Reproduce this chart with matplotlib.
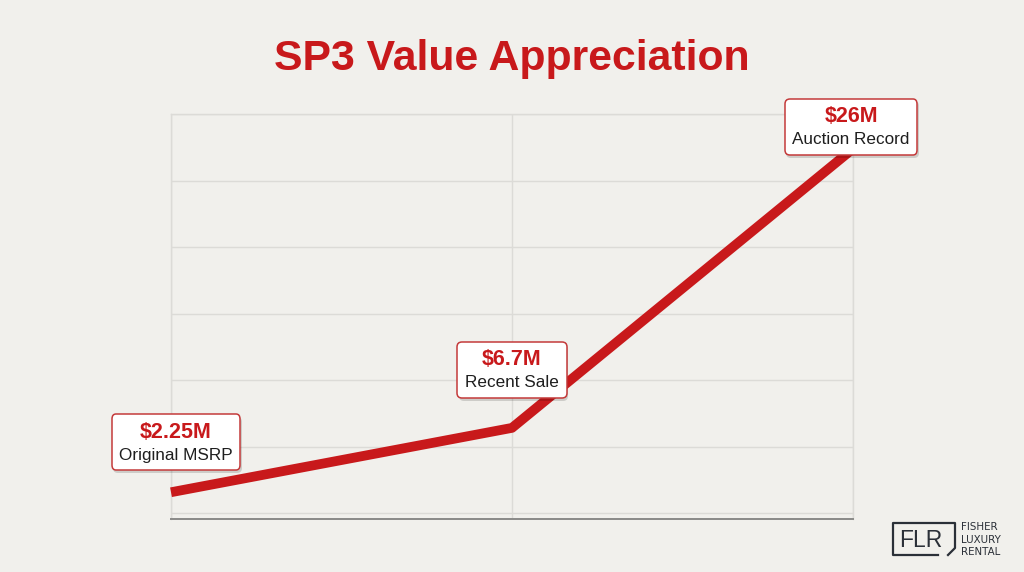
import matplotlib
matplotlib.use("Agg")
import matplotlib.pyplot as plt
import numpy as np
from matplotlib.offsetbox import AnnotationBbox, TextArea, VPacker
from matplotlib import patheffects
from matplotlib.lines import Line2D

# ---- data ----
x_pos = [0, 1, 2]
values = [2.25, 6.7, 26.0]
value_labels = ["$2.25M", "$6.7M", "$26M"]
event_labels = ["Original MSRP", "Recent Sale", "Auction Record"]
title = "SP3 Value Appreciation"

BG = "#F1F0EC"
RED = "#C8191B"
GRID = "#DCDBD7"
FONT = "Liberation Sans"

fig = plt.figure(figsize=(10.24, 5.72), dpi=100, facecolor=BG)
ax = fig.add_axes([171/1024, 1 - 519/572, (853-171)/1024, (519-114)/572])
ax.set_facecolor(BG)

ax.plot(x_pos, values, color=RED, lw=7, solid_capstyle="butt",
        solid_joinstyle="round", zorder=3, clip_on=False)

ax.set_xlim(0, 2)
ax.set_ylim(0.4, 28.4)
ax.set_xticks([0, 1, 2])
ax.set_yticks(np.linspace(0.8, 28.4, 7))
ax.tick_params(left=False, bottom=False, labelleft=False, labelbottom=False)
ax.grid(True, color=GRID, lw=1.0, zorder=0)
for s in ["left", "right", "top"]:
    ax.spines[s].set_color(GRID)
    ax.spines[s].set_linewidth(1.0)
ax.spines["bottom"].set_color("#8A8A88")
ax.spines["bottom"].set_linewidth(1.4)

offsets = [(3.6, 36), (0, 41.8), (-1.4, 15.8)]
for xi, yi, vl, el, off in zip(x_pos, values, value_labels, event_labels, offsets):
    t1 = TextArea(vl, textprops=dict(color=RED, fontsize=15.5, fontweight="bold",
                                     family=FONT))
    t2 = TextArea(el, textprops=dict(color="#1E1E1E", fontsize=12.3, family=FONT))
    pack = VPacker(children=[t1, t2], align="center", pad=0, sep=3.5)
    ab = AnnotationBbox(pack, (xi, yi), xybox=off, xycoords="data",
                        boxcoords="offset points", frameon=True,
                        annotation_clip=False,
                        bboxprops=dict(boxstyle="round,pad=0.55,rounding_size=0.35",
                                       fc="white", ec="#C43A3A", lw=1.1))
    ab.set_zorder(6)
    ab.patch.set_path_effects([
        patheffects.SimplePatchShadow(offset=(1.0, -2.0), alpha=0.15, shadow_rgbFace="#000000"),
        patheffects.Normal()])
    ax.add_artist(ab)

fig.text(0.5, 1 - 70/572, title, ha="center", va="baseline", color=RED,
         fontsize=30.8, fontweight="bold", family=FONT)

# ---- logo ----
W, H = 1024, 572
def fx(px):
    return px / W
def fy(py):
    return 1 - py / H
logo_pts = [(938, 555), (893, 555), (893, 523), (955, 523), (955, 548), (948, 555)]
fig.add_artist(Line2D([fx(p[0]) for p in logo_pts], [fy(p[1]) for p in logo_pts],
                      color="#2B3038", lw=1.6, transform=fig.transFigure))
fig.text(fx(921), fy(547), "FLR", ha="center", va="baseline", color="#2B3038",
         fontsize=16.5, family=FONT)
for i, w in enumerate(["FISHER", "LUXURY", "RENTAL"]):
    fig.text(fx(961), fy(527 + i*12.6), w, ha="left", va="center",
             color="#2B3038", fontsize=7.4, family="DejaVu Sans")

fig.savefig("out.png", dpi=100, facecolor=BG)
